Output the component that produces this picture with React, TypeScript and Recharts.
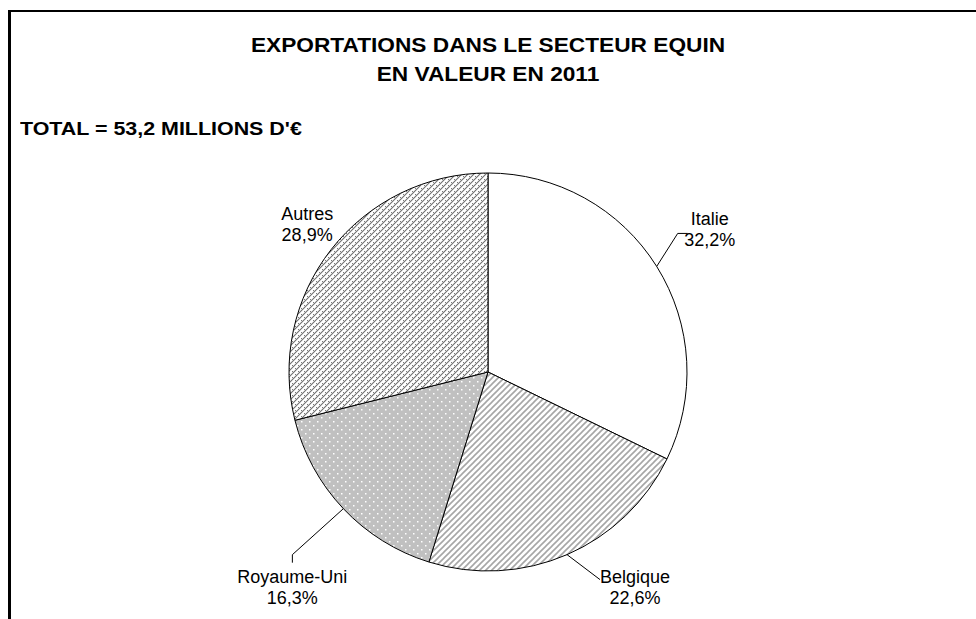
import { Cell, Pie, PieChart } from "recharts";

const countries = ["Italie", "Belgique", "Royaume-Uni", "Autres"];
const shares = [32.2, 22.6, 16.3, 28.9];
const fills = ["#ffffff", "url(#stripes)", "url(#dots)", "url(#hatch)"];

const data = countries.map((name, i) => ({ name, value: shares[i] }));

// where each label sits relative to its slice's edge point, and the leader bends
const placement: Record<string, { dx: number; dy: number; leader: number[][] }> = {
  Italie: { dx: 53, dy: -37, leader: [[21, -33], [31, -33]] },
  Belgique: { dx: 68, dy: 32, leader: [[33, 25]] },
  "Royaume-Uni": { dx: -51, dy: 78, leader: [[-51, 46], [-51, 54]] },
  Autres: { dx: -24, dy: -26, leader: [] },
};

const RAD = Math.PI / 180;
const font = "'Liberation Sans', Arial, sans-serif";

function SliceLabel(props: any) {
  const { cx, cy, midAngle, outerRadius, name, value } = props;
  const ex = cx + outerRadius * Math.cos(-midAngle * RAD);
  const ey = cy + outerRadius * Math.sin(-midAngle * RAD);
  const p = placement[name];
  const pts = [[ex, ey], ...p.leader.map(([a, b]) => [ex + a, ey + b])];
  const lx = ex + p.dx;
  const ly = ey + p.dy;
  return (
    <g>
      {p.leader.length > 0 && (
        <polyline points={pts.map((q) => q.join(",")).join(" ")} fill="none" stroke="#000" strokeWidth={1} />
      )}
      <text x={lx} y={ly} textAnchor="middle" fontFamily={font} fontSize={18} fill="#000">
        <tspan x={lx} dy={-4}>{name}</tspan>
        <tspan x={lx} dy={21}>{value.toFixed(1).replace(".", ",") + "%"}</tspan>
      </text>
    </g>
  );
}

export default function App() {
  return (
    <div style={{ position: "relative", width: 976, height: 619, overflow: "hidden", background: "#fff" }}>
      <style>{"body{margin:0;overflow:hidden}"}</style>
      <div
        style={{
          position: "absolute",
          left: 8,
          top: 10,
          width: 1100,
          height: 800,
          borderLeft: "3px solid #000",
          borderTop: "2px solid #000",
        }}
      />
      <div
        style={{
          position: "absolute",
          left: 0,
          width: 976,
          top: 30,
          textAlign: "center",
          fontFamily: font,
          fontWeight: "bold",
          fontSize: 21,
          lineHeight: "29px",
          transform: "scaleX(1.08)",
        }}
      >
        EXPORTATIONS DANS LE SECTEUR EQUIN
        <br />
        EN VALEUR EN 2011
      </div>
      <div
        style={{
          position: "absolute",
          left: 20,
          top: 119,
          fontFamily: font,
          fontWeight: "bold",
          fontSize: 18,
          transform: "scaleX(1.19)",
          transformOrigin: "0 0",
          whiteSpace: "nowrap",
        }}
      >
        TOTAL = 53,2 MILLIONS D'€
      </div>
      <div style={{ position: "absolute", left: 0, top: 0 }}>
        <PieChart width={976} height={619} margin={{ top: 0, right: 0, bottom: 0, left: 0 }}>
          <defs>
            <pattern id="stripes" width={6} height={6} patternUnits="userSpaceOnUse">
              <rect width={6} height={6} fill="#fff" />
              <path d="M-1,1 l2,-2 M0,6 l6,-6 M5,7 l2,-2" stroke="#a6a6a6" strokeWidth={1.6} />
            </pattern>
            <pattern id="dots" width={8} height={8} patternUnits="userSpaceOnUse">
              <rect width={8} height={8} fill="#c0c0c0" />
              <rect x={1} y={1} width={1.5} height={1.5} fill="#fff" />
              <rect x={5} y={5} width={1.5} height={1.5} fill="#fff" />
            </pattern>
            <pattern id="hatch" width={6} height={6} patternUnits="userSpaceOnUse">
              <rect width={6} height={6} fill="#fff" />
              <path d="M-1,1 l2,-2 M0,6 l6,-6 M5,7 l2,-2" stroke="#6e6e6e" strokeWidth={1.1} />
              <path d="M1,2 l1,1 M4,5 l1,1" stroke="#7a7a7a" strokeWidth={1} />
            </pattern>
          </defs>
          <Pie
            data={data}
            dataKey="value"
            nameKey="name"
            cx={488}
            cy={372}
            outerRadius={199}
            startAngle={90}
            endAngle={-270}
            stroke="#000"
            strokeWidth={1}
            label={SliceLabel}
            labelLine={false}
            isAnimationActive={false}
          >
            {data.map((d, i) => (
              <Cell key={d.name} fill={fills[i]} />
            ))}
          </Pie>
        </PieChart>
      </div>
    </div>
  );
}
